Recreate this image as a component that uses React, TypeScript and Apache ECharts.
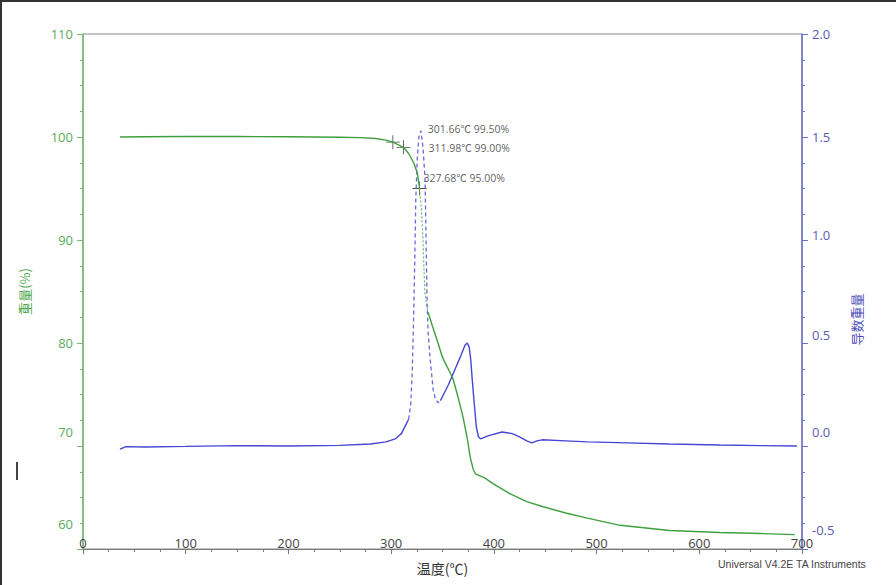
import React, { useEffect, useRef } from "react";
import * as echarts from "echarts";

// Thermogravimetric curve: [temperature ℃, weight %]
const weightCurve: [number, number][] = [
  [36, 100.0], [60, 100.02], [100, 100.05], [150, 100.05], [200, 100.02], [250, 99.98],
  [270, 99.94], [285, 99.85], [295, 99.7], [301.66, 99.5], [311.98, 99.0], [317, 98.4],
  [322, 97.5], [325.5, 96.5], [327.68, 95.0], [329.5, 93.0], [331, 90.0], [332, 87.0],
  [333, 84.8], [334.5, 83.6], [336, 83.0], [340, 81.7], [345, 80.2], [350, 78.6],
  [355, 77.6], [360, 76.6], [365, 74.8], [370, 72.8], [374, 70.8], [377, 68.9],
  [380, 67.7], [382, 67.3], [391, 66.9], [400, 66.3], [415, 65.4], [432, 64.6],
  [448, 64.1], [470, 63.5], [491, 63.0], [523, 62.3], [571, 61.8], [620, 61.6],
  [660, 61.5], [693, 61.4],
];

// Derivative weight curve: [temperature ℃, derivative]
const dtgCurve: [number, number][] = [
  [36, -0.015], [42, -0.003], [60, -0.005], [100, -0.002], [150, 0.002], [200, 0.0],
  [250, 0.003], [280, 0.01], [295, 0.02], [304, 0.035], [310, 0.06], [314, 0.1],
  [317, 0.13], [319, 0.2], [320.5, 0.35], [322, 0.65], [323, 0.9], [324, 1.2],
  [325.5, 1.4], [327, 1.5], [329, 1.53], [331, 1.45], [333, 1.3], [334, 1.0],
  [335, 0.7], [336, 0.55], [337.5, 0.45], [339, 0.37], [341, 0.27], [343, 0.23],
  [345.6, 0.21], [348, 0.22], [350, 0.24], [356, 0.3], [362, 0.37], [368, 0.44],
  [372, 0.49], [374, 0.5], [376, 0.48], [377.5, 0.42], [379, 0.32], [381, 0.2],
  [383, 0.09], [385, 0.045], [387, 0.035], [395, 0.05], [408, 0.068], [418, 0.06],
  [425, 0.044], [432, 0.025], [437, 0.015], [442, 0.025], [447, 0.03], [470, 0.025],
  [491, 0.02], [530, 0.015], [571, 0.01], [620, 0.005], [660, 0.002], [695, 0.0],
];

// Marked points on the weight curve
const markTemps = [301.66, 311.98, 327.68];
const markWeights = [99.5, 99.0, 95.0];

const xAxisName = "温度(℃)";
const leftAxisName = "重量(%)";
const rightAxisName = "导数重量";
const footerText = "Universal V4.2E TA Instruments";

// layout / style helpers (not data)
const markLabelOffsets: [number, number][] = [[23, -13], [13, 1], [-8, -11]];
const leftLift: Record<string, number> = { "70": 14, "60": 25 };
const rightLift: Record<string, number> = { "1.0": 5, "0.5": 8, "0.0": 14, "-0.5": 19 };

const GREEN = "#3f9f3f";
const BLUE = "#4646d2";
const FONT = "'Open Sans', 'Noto Sans CJK SC', sans-serif";
const CJK = "'Noto Sans CJK SC', sans-serif";

function makeRich(color: string, lifts: Record<string, number>) {
  const rich: Record<string, any> = {
    v: { color, fontSize: 13, fontFamily: FONT, lineHeight: 14 },
  };
  Object.values(lifts).forEach((u) => {
    rich["s" + u] = { fontSize: 1, lineHeight: 2 * u };
  });
  return rich;
}

function liftLabel(text: string, lifts: Record<string, number>) {
  const u = lifts[text] || 0;
  return u ? `{v|${text}}\n{s${u}| }` : `{v|${text}}`;
}

export default function App() {
  const ref = useRef<HTMLDivElement>(null);

  useEffect(() => {
    if (!ref.current) return;
    const chart = echarts.init(ref.current, undefined, { renderer: "svg" });

    const wA = weightCurve.filter((p) => p[0] <= 327.68);
    const wB = weightCurve.filter((p) => p[0] >= 327.68 && p[0] <= 336);
    const wC = weightCurve.filter((p) => p[0] >= 336);
    const dA = dtgCurve.filter((p) => p[0] <= 317);
    const dB = dtgCurve.filter((p) => p[0] >= 317 && p[0] <= 348);
    const dC = dtgCurve.filter((p) => p[0] >= 348);

    const marks = markTemps.map((t, i) => ({
      value: [t, markWeights[i]],
      label: { offset: markLabelOffsets[i] },
    }));

    const lineBase = { type: "line", showSymbol: false, symbol: "none", silent: true };

    chart.setOption({
      animation: false,
      backgroundColor: "#ffffff",
      grid: {
        left: 83, right: 94, top: 34, bottom: 36,
        show: true, borderColor: "#8a8a8a", borderWidth: 1, backgroundColor: "transparent",
      },
      xAxis: {
        type: "value", min: 0, max: 700, interval: 100,
        axisLine: { show: true, onZero: false, lineStyle: { color: "#777", width: 1.2 } },
        axisTick: { show: true, length: 5, lineStyle: { color: "#777" } },
        minorTick: { show: true, splitNumber: 4, length: 3, lineStyle: { color: "#777" } },
        splitLine: { show: false },
        axisLabel: { inside: true, margin: 0, color: "#444", fontSize: 13, fontFamily: FONT },
        name: xAxisName, nameLocation: "middle", nameGap: 12,
        nameTextStyle: { color: "#333", fontSize: 14, fontFamily: CJK },
      },
      yAxis: [
        {
          type: "value", min: 60, max: 110, interval: 10, position: "left",
          axisLine: { show: true, onZero: false, lineStyle: { color: "#74bb74", width: 1.5 } },
          axisTick: { show: true, length: 6, lineStyle: { color: "#74bb74" } },
          minorTick: { show: true, splitNumber: 4, length: 3, lineStyle: { color: "#74bb74" } },
          splitLine: { show: false },
          axisLabel: {
            margin: 10, color: "#5aaa5a", fontSize: 13, fontFamily: FONT,
            formatter: (v: number) => liftLabel(String(v), leftLift),
            rich: makeRich("#5aaa5a", leftLift),
          },
          name: leftAxisName, nameLocation: "middle", nameGap: 52, nameRotate: 90,
          nameTextStyle: { color: "#4fa84f", fontSize: 13, fontFamily: CJK },
        },
        {
          type: "value", min: -0.5, max: 2.0, interval: 0.5, position: "right",
          axisLine: { show: true, onZero: false, lineStyle: { color: "#7070cc", width: 1.5 } },
          axisTick: { show: true, length: 6, lineStyle: { color: "#7070cc" } },
          minorTick: { show: true, splitNumber: 4, length: 3, lineStyle: { color: "#7070cc" } },
          splitLine: { show: false },
          axisLabel: {
            margin: 10, color: "#5b5bb5", fontSize: 13, fontFamily: FONT,
            formatter: (v: number) => liftLabel(v.toFixed(1), rightLift),
            rich: makeRich("#5b5bb5", rightLift),
          },
          name: rightAxisName, nameLocation: "middle", nameGap: 48, nameRotate: 90,
          nameTextStyle: { color: "#5050b8", fontSize: 13, fontFamily: CJK, padding: [0, 56, 0, 0] },
        },
      ],
      series: [
        { ...lineBase, yAxisIndex: 1, data: dA, lineStyle: { color: BLUE, width: 1.4 } },
        { ...lineBase, yAxisIndex: 1, data: dB, lineStyle: { color: "#6a6ad8", width: 1.3, type: [4, 3] } },
        { ...lineBase, yAxisIndex: 1, data: dC, lineStyle: { color: BLUE, width: 1.4 } },
        { ...lineBase, yAxisIndex: 0, data: wA, lineStyle: { color: GREEN, width: 1.4 } },
        { ...lineBase, yAxisIndex: 0, data: wB, lineStyle: { color: "#6ab86a", width: 1.2, type: [2, 2] } },
        { ...lineBase, yAxisIndex: 0, data: wC, lineStyle: { color: GREEN, width: 1.4 } },
        {
          type: "scatter", yAxisIndex: 0, silent: true,
          symbol: "path://M9.4,0h1.2v9.4h9.4v1.2h-9.4v9.4h-1.2v-9.4h-9.4v-1.2h9.4z",
          symbolSize: 14,
          itemStyle: { color: "#222" },
          data: marks,
          label: {
            show: true, position: "right", distance: 5, color: "#333",
            fontSize: 10.5, fontFamily: FONT,
            formatter: (p: any) => `${p.value[0].toFixed(2)}℃ ${p.value[1].toFixed(2)}%`,
          },
        },
      ],
      graphic: [
        { type: "rect", left: 0, top: 0, shape: { width: 896, height: 2 }, style: { fill: "#333" } },
        { type: "rect", left: 0, top: 0, shape: { width: 2, height: 585 }, style: { fill: "#333" } },
        { type: "rect", left: 16, top: 462, shape: { width: 2, height: 18 }, style: { fill: "#444" } },
        {
          type: "text", left: 718, top: 558,
          style: { text: footerText, fill: "#444", fontSize: 10.5, fontFamily: "'Liberation Sans', sans-serif" },
        },
      ],
    });

    return () => chart.dispose();
  }, []);

  return (
    <div
      ref={ref}
      style={{ position: "fixed", left: 0, top: 0, width: 896, height: 585, background: "#fff" }}
    />
  );
}
